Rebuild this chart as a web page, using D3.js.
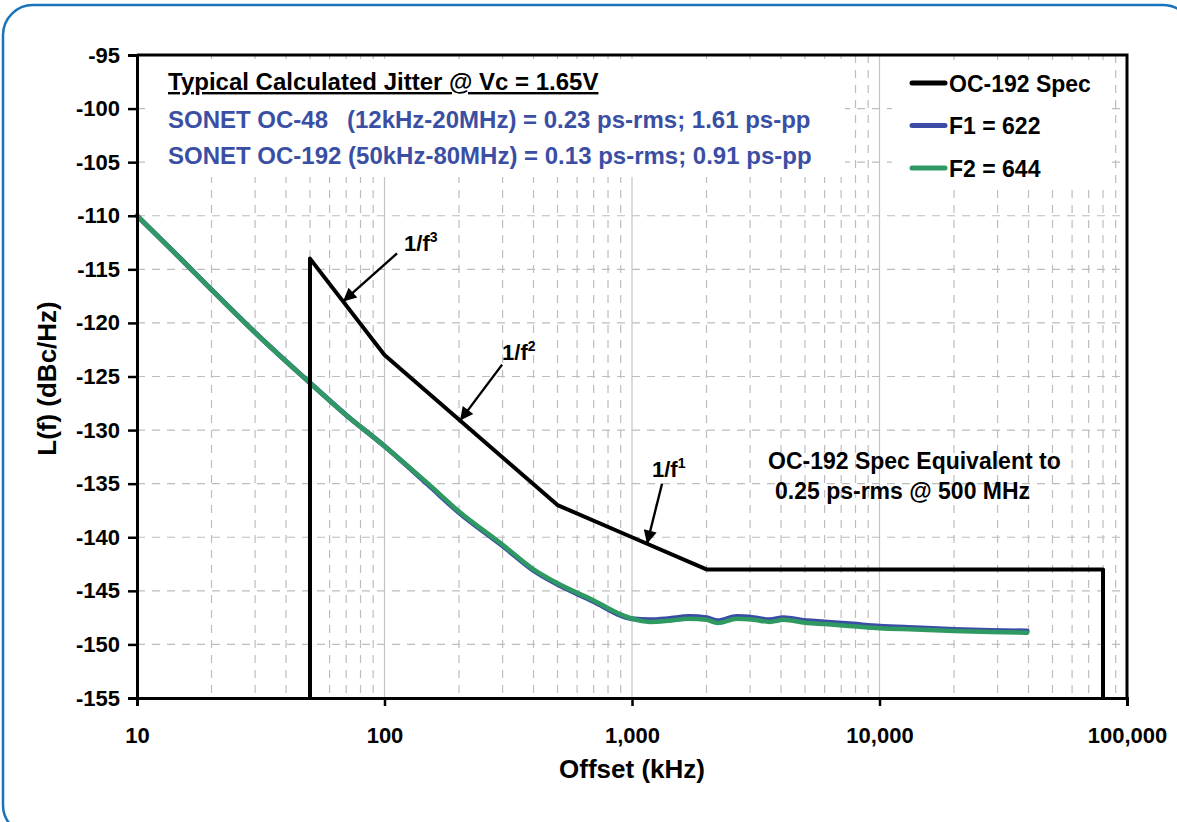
<!DOCTYPE html>
<meta charset="utf-8">
<style>
body { margin: 0; background: #fff; }
text { font-family: "Liberation Sans", Arial, sans-serif; font-weight: bold; }
.grid-minor { stroke: #bdbdbd; stroke-width: 1.2; stroke-dasharray: 8 7; }
.grid-major { stroke: #c4c4c4; stroke-width: 1.2; }
.axis path, .axis line { stroke: #000; }
.axis path { stroke-width: 3; }
.axis line { stroke-width: 2.5; }
.axis text { font-size: 22px; fill: #000; }
</style>
<body>
<svg id="chart" width="1177" height="822"></svg>
<script src="https://cdn.jsdelivr.net/npm/d3@7"></script>
<script>

// spec mask (OC-192)
const specFreq = [50, 50, 100, 500, 1000, 2000, 80000, 80000]
const specDb   = [-155, -114, -123, -137, -140, -143, -143, -155]

// measured phase noise, offset in kHz
const noiseFreq = [10, 15, 20, 30, 50, 70, 100, 150, 200, 300, 400, 500, 700, 900, 1000,
                   1180, 1400, 1700, 2000, 2220, 2650, 3100, 3600, 4100, 5100, 6000, 7800,
                   10000, 14000, 20000, 28000, 39500]
const f1Db = [-110.0, -114.0, -116.9, -120.9, -125.6, -128.6, -131.5, -135.1, -137.7, -140.8,
              -143.1, -144.4, -146.0, -147.3, -147.6, -147.7, -147.6, -147.4, -147.5, -147.8,
              -147.4, -147.5, -147.7, -147.5, -147.8, -147.9, -148.1, -148.3, -148.45, -148.6,
              -148.7, -148.75]
const f2Db = [-110.0, -114.0, -116.9, -120.9, -125.6, -128.6, -131.5, -135.0, -137.6, -140.7,
              -143.0, -144.3, -145.9, -147.2, -147.6, -147.9, -147.8, -147.6, -147.7, -148.0,
              -147.6, -147.7, -147.9, -147.7, -148.0, -148.1, -148.3, -148.5, -148.6, -148.75,
              -148.85, -148.9]

const xTicks = [10, 100, 1000, 10000, 100000]
const yTicks = [-155, -150, -145, -140, -135, -130, -125, -120, -115, -110, -105, -100, -95]

const legendNames = ["OC-192 Spec", "F1 = 622", "F2 = 644"]
const legendColors = ["#000000", "#3a4ca6", "#2e9a62"]

// slope annotations: frequency where arrow hits the spec line
const slopeFreq = [68, 202, 1150]
const slopePow = ["3", "2", "1"]

const margin = {top: 55, right: 50, bottom: 124, left: 137},
    W = 1177, H = 822

const svg = d3.select("#chart")

const x = d3.scaleLog()
  .domain([10, 100000])
  .range([margin.left, W - margin.right])

const y = d3.scaleLinear()
  .domain([-155, -95])
  .range([H - margin.bottom, margin.top])

// outer rounded frame
svg.append("rect")
  .attr("x", 3).attr("y", 5)
  .attr("width", 1190).attr("height", 830)
  .attr("rx", 30)
  .attr("fill", "none")
  .attr("stroke", "#1a74bb")
  .attr("stroke-width", 2.5)

// grid
const minorX = []
d3.range(1, 5).forEach(e => {
  d3.range(2, 10).forEach(m => minorX.push(m * Math.pow(10, e)))
})

svg.append("g").selectAll("line")
  .data(minorX)
  .join("line")
    .attr("class", "grid-minor")
    .attr("x1", d => x(d)).attr("x2", d => x(d))
    .attr("y1", y(-95)).attr("y2", y(-155))

svg.append("g").selectAll("line")
  .data([100, 1000, 10000])
  .join("line")
    .attr("class", "grid-major")
    .attr("x1", d => x(d)).attr("x2", d => x(d))
    .attr("y1", y(-95)).attr("y2", y(-155))

svg.append("g").selectAll("line")
  .data(yTicks.slice(1, -1))
  .join("line")
    .attr("class", "grid-minor")
    .attr("x1", x(10)).attr("x2", x(100000))
    .attr("y1", d => y(d)).attr("y2", d => y(d))

// white boxes behind the annotation text and legend
svg.append("rect")
  .attr("x", 145).attr("y", 59)
  .attr("width", 700).attr("height", 118)
  .attr("fill", "#fff")

svg.append("rect")
  .attr("x", 892).attr("y", 60)
  .attr("width", 218).attr("height", 130)
  .attr("fill", "#fff")

// data lines
const noiseLine = d3.line()
  .x(d => x(d[0]))
  .y(d => y(d[1]))
  .curve(d3.curveMonotoneX)

svg.append("path")
  .datum(noiseFreq.map((f, i) => [f, f1Db[i]]))
  .attr("d", noiseLine)
  .attr("fill", "none")
  .attr("stroke", legendColors[1])
  .attr("stroke-width", 5)
  .attr("stroke-linecap", "round")

svg.append("path")
  .datum(noiseFreq.map((f, i) => [f, f2Db[i]]))
  .attr("d", noiseLine)
  .attr("fill", "none")
  .attr("stroke", legendColors[2])
  .attr("stroke-width", 4.5)
  .attr("stroke-linecap", "round")

const specLine = d3.line()
  .x(d => x(d[0]))
  .y(d => y(d[1]))

svg.append("path")
  .datum(specFreq.map((f, i) => [f, specDb[i]]))
  .attr("d", specLine)
  .attr("fill", "none")
  .attr("stroke", "#000")
  .attr("stroke-width", 4)
  .attr("stroke-linejoin", "round")

// axes
svg.append("g")
  .attr("class", "axis")
  .attr("transform", `translate(0, ${y(-155)})`)
  .call(d3.axisBottom(x)
    .tickValues(xTicks)
    .tickSize(8)
    .tickPadding(21)
    .tickFormat(d3.format(",")))

svg.append("g")
  .attr("class", "axis")
  .attr("transform", `translate(${x(10)}, 0)`)
  .call(d3.axisLeft(y)
    .tickValues(yTicks)
    .tickSize(9)
    .tickPadding(8)
    .tickFormat(d => String(d)))

// top and right border
svg.append("path")
  .attr("d", `M${x(10)},${y(-95)}H${x(100000)}V${y(-155)}`)
  .attr("fill", "none")
  .attr("stroke", "#000")
  .attr("stroke-width", 3)

// axis titles
svg.append("text")
  .attr("x", x(1000))
  .attr("y", 778)
  .attr("text-anchor", "middle")
  .style("font-size", "26px")
  .text("Offset (kHz)")

svg.append("g")
  .attr("transform", `translate(56, ${y(-125) + 2})`)
  .append("text")
    .attr("transform", "rotate(-90)")
    .attr("text-anchor", "middle")
    .style("font-size", "26px")
    .text("L(f) (dBc/Hz)")

// jitter annotation
svg.append("text")
  .attr("x", 168).attr("y", 90)
  .style("font-size", "24px")
  .style("text-decoration", "underline")
  .text("Typical Calculated Jitter @ Vc = 1.65V")

const oc48 = svg.append("text")
  .attr("x", 168).attr("y", 128)
  .style("font-size", "24px")
  .attr("fill", "#3a4fa3")
oc48.append("tspan").text("SONET OC-48")
oc48.append("tspan").attr("x", 347).text("(12kHz-20MHz) = 0.23 ps-rms; 1.61 ps-pp")

svg.append("text")
  .attr("x", 168).attr("y", 164)
  .style("font-size", "24px")
  .attr("fill", "#3a4fa3")
  .text("SONET OC-192 (50kHz-80MHz) = 0.13 ps-rms; 0.91 ps-pp")

// legend
const legend = svg.append("g")
  .selectAll("g")
  .data(legendNames)
  .join("g")
    .attr("transform", (d, i) => `translate(912, ${83 + i * 42.5})`)

legend.append("line")
  .attr("x1", 0).attr("x2", 33)
  .attr("stroke", (d, i) => legendColors[i])
  .attr("stroke-width", 5)
  .attr("stroke-linecap", "round")

legend.append("text")
  .attr("x", 37).attr("y", 8.5)
  .style("font-size", "23px")
  .text(d => d)

// spec equivalence note
svg.append("text")
  .attr("x", 768).attr("y", 469)
  .style("font-size", "23px")
  .text("OC-192 Spec Equivalent to")
svg.append("text")
  .attr("x", 775).attr("y", 499)
  .style("font-size", "23px")
  .text("0.25 ps-rms @ 500 MHz")

// slope arrows
svg.append("defs").append("marker")
  .attr("id", "arrow")
  .attr("viewBox", "0 0 10 10")
  .attr("refX", 10).attr("refY", 5)
  .attr("markerWidth", 7.5).attr("markerHeight", 5.5)
  .attr("markerUnits", "strokeWidth")
  .attr("orient", "auto")
  .append("path")
    .attr("d", "M0,0L10,5L0,10z")
    .attr("fill", "#000")

function specAt(f) {
  const lx = specFreq.map(Math.log10).slice(1, -1)
  const ly = specDb.slice(1, -1)
  return d3.scaleLinear().domain(lx).range(ly)(Math.log10(f))
}

const tailOffset = [[54, -48], [42, -56], [15, -60]]
const labelOffset = [[7, -2], [0, -5], [-10, -7]]

slopeFreq.forEach((f, i) => {
  const tx = x(f), ty = y(specAt(f))
  const sx = tx + tailOffset[i][0], sy = ty + tailOffset[i][1]
  svg.append("line")
    .attr("x1", sx).attr("y1", sy)
    .attr("x2", tx).attr("y2", ty)
    .attr("stroke", "#000")
    .attr("stroke-width", 2.4)
    .attr("marker-end", "url(#arrow)")
  const t = svg.append("text")
    .attr("x", sx + labelOffset[i][0])
    .attr("y", sy + labelOffset[i][1])
    .style("font-size", "22px")
  t.append("tspan").text("1/f")
  t.append("tspan")
    .attr("dy", -9)
    .style("font-size", "14px")
    .text(slopePow[i])
})

</script>
</body>
